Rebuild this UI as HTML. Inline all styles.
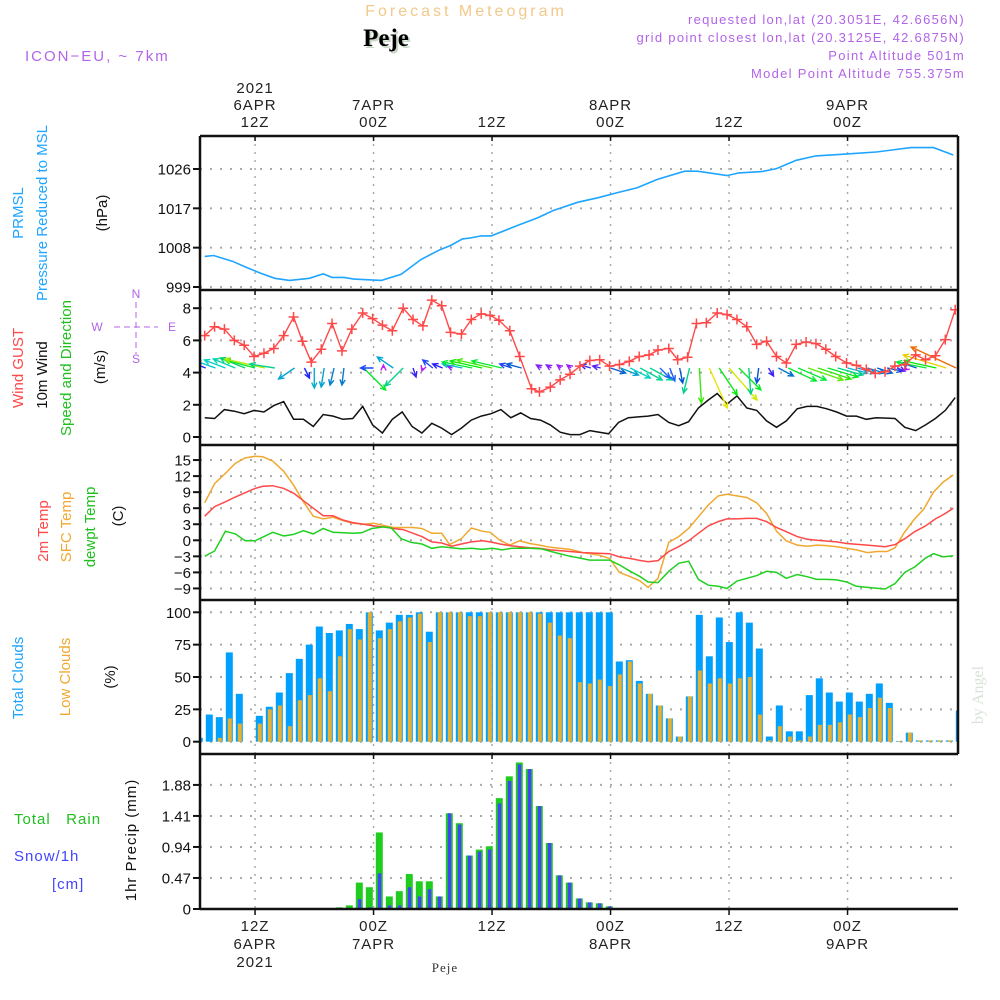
<!DOCTYPE html>
<html><head><meta charset="utf-8">
<style>
html,body{margin:0;padding:0;background:#fff;}
svg{display:block;font-family:"Liberation Sans",sans-serif;}
.tk{font-size:15px;fill:#111;}
.ax{font-size:15px;fill:#222;letter-spacing:1px;}
</style></head>
<body>
<svg id="chart" width="1000" height="1000" viewBox="0 0 1000 1000" xmlns="http://www.w3.org/2000/svg">
<rect x="0" y="0" width="1000" height="1000" fill="#fff"/>
<!-- header -->
<text x="466" y="16" text-anchor="middle" font-size="16" fill="#f2c98a" letter-spacing="3">Forecast Meteogram</text>
<text x="388" y="48" text-anchor="middle" font-size="25" font-weight="bold" font-family="Liberation Serif, serif" fill="#c8d8c8">Peje</text>
<text x="386" y="46" text-anchor="middle" font-size="25" font-weight="bold" font-family="Liberation Serif, serif" fill="#000">Peje</text>
<text x="25" y="61" font-size="15" fill="#b264e8" letter-spacing="2">ICON−EU, ~ 7km</text>
<g font-size="13" fill="#b264e8" text-anchor="end" letter-spacing="1.3">
<text x="965" y="24">requested lon,lat (20.3051E, 42.6656N)</text>
<text x="965" y="42">grid point closest lon,lat (20.3125E, 42.6875N)</text>
<text x="965" y="60">Point Altitude 501m</text>
<text x="965" y="78">Model Point Altitude 755.375m</text>
</g>
<text transform="translate(983,695) rotate(-90)" text-anchor="middle" font-size="16" font-family="Liberation Serif, serif" fill="#d8e2d8">by Angel</text>

<!-- left axis titles -->
<g font-size="15">
<text transform="translate(23,213) rotate(-90)" text-anchor="middle" fill="#1ea5ff">PRMSL</text>
<text transform="translate(47,213) rotate(-90)" text-anchor="middle" fill="#1ea5ff">Pressure Reduced to MSL</text>
<text transform="translate(107,213) rotate(-90)" text-anchor="middle" fill="#111">(hPa)</text>
</g>
<g font-size="15">
<text transform="translate(23,368) rotate(-90)" text-anchor="middle" fill="#ff4848">Wind GUST</text>
<text transform="translate(47,375) rotate(-90)" text-anchor="middle" fill="#111">10m Wind</text>
<text transform="translate(71,368) rotate(-90)" text-anchor="middle" fill="#20c020">Speed and Direction</text>
<text transform="translate(105,367) rotate(-90)" text-anchor="middle" fill="#111">(m/s)</text>
</g>
<g stroke="#b264e8" fill="#b264e8" font-size="12">
<line x1="136" y1="302" x2="136" y2="354" stroke-dasharray="6 4" stroke-width="1"/>
<line x1="114" y1="327" x2="158" y2="327" stroke-dasharray="6 4" stroke-width="1"/>
<text x="136" y="298" text-anchor="middle" stroke="none">N</text>
<text x="136" y="363" text-anchor="middle" stroke="none">S</text>
<text x="97" y="331" text-anchor="middle" stroke="none">W</text>
<text x="172" y="331" text-anchor="middle" stroke="none">E</text>
</g>
<g font-size="15">
<text transform="translate(48,531) rotate(-90)" text-anchor="middle" fill="#ff4848">2m Temp</text>
<text transform="translate(71,527) rotate(-90)" text-anchor="middle" fill="#f0a830">SFC Temp</text>
<text transform="translate(95,527) rotate(-90)" text-anchor="middle" fill="#20c020">dewpt Temp</text>
<text transform="translate(123,516) rotate(-90)" text-anchor="middle" fill="#111">(C)</text>
</g>
<g font-size="15">
<text transform="translate(23,678) rotate(-90)" text-anchor="middle" fill="#1ea5ff">Total Clouds</text>
<text transform="translate(70,677) rotate(-90)" text-anchor="middle" fill="#f0a830">Low Clouds</text>
<text transform="translate(115,677) rotate(-90)" text-anchor="middle" fill="#111">(%)</text>
</g>
<g font-size="15" letter-spacing="1">
<text x="14" y="824" fill="#20c020">Total&#160;&#160;&#160;Rain</text>
<text x="14" y="861" fill="#4444ff">Snow/1h</text>
<text x="52" y="889" fill="#4444ff">[cm]</text>
<text transform="translate(136,840) rotate(-90)" text-anchor="middle" fill="#111">1hr Precip (mm)</text>
</g>
<text x="445" y="972" text-anchor="middle" font-size="13" font-family="Liberation Serif, serif" fill="#333" letter-spacing="1">Peje</text>

<g id="grid"></g>
<g id="marks"></g>
<g id="frame"></g>
<g id="labels"></g>
</svg>
<script>
// ===== data =====
var timeTicks = [6, 18, 30, 42, 54, 66];
var topTickLines = [["2021","6APR","12Z"],["7APR","00Z"],["12Z"],["8APR","00Z"],["12Z"],["9APR","00Z"]];
var bottomTickLines = [["12Z","6APR","2021"],["00Z","7APR"],["12Z"],["00Z","8APR"],["12Z"],["00Z","9APR"]];

var pressureTicks = [999, 1008, 1017, 1026];
var pressureTimes = [0.9,1.8,3.7,5.0,6.5,8.0,9.5,11.5,12.9,13.8,15.0,16.0,18.8,20.8,22.8,24.6,25.8,27.0,27.8,28.9,29.9,32.6,34.6,36.2,38.7,40.7,42.7,44.7,46.7,49.5,50.8,53.8,55.0,57.3,58.8,60.8,62.8,65.8,68.9,72.4,74.7,76.7];
var pressureValues = [1006.0,1006.2,1004.9,1003.6,1002.2,1001.0,1000.5,1001.0,1002.0,1001.2,1001.2,1000.8,1000.5,1001.9,1005.3,1007.4,1008.5,1010.0,1010.2,1010.7,1010.7,1013.1,1014.8,1016.5,1018.4,1019.4,1020.6,1021.7,1023.6,1025.5,1025.5,1024.5,1025.1,1025.4,1026.1,1028.0,1029.0,1029.4,1029.9,1030.9,1030.9,1029.2];

var windTicks = [0, 2, 4, 6, 8];
var gustTimes = [0.9,1.9,2.9,3.9,4.9,5.9,6.9,7.9,8.9,9.9,10.8,11.7,12.7,13.8,14.8,15.8,16.9,17.9,18.9,19.9,21.0,22.0,23.0,23.9,24.9,25.8,26.9,27.9,28.9,29.8,30.7,31.8,32.8,34.0,34.8,35.9,36.9,37.9,38.9,39.9,40.9,41.9,42.9,43.9,44.9,45.9,46.8,47.9,48.8,49.8,50.7,51.7,52.8,53.8,54.8,55.8,56.8,57.8,58.8,59.8,60.8,61.8,62.8,63.8,64.8,65.9,66.9,67.9,68.8,69.8,70.8,71.8,72.9,73.9,74.9,75.9,76.9];
var gustValues = [6.3,6.85,6.7,6.0,5.7,5.0,5.2,5.5,6.3,7.45,5.95,4.65,5.45,7.05,5.35,6.7,7.7,7.35,6.95,6.6,8.0,7.3,6.9,8.5,8.15,6.5,6.4,7.3,7.65,7.55,7.25,6.6,5.0,3.0,2.8,3.1,3.55,3.9,4.4,4.75,4.8,4.4,4.5,4.7,5.0,5.1,5.4,5.5,4.8,4.95,7.05,7.1,7.7,7.6,7.3,6.85,5.75,5.95,5.0,4.6,5.75,5.9,5.8,5.45,5.0,4.6,4.45,4.2,3.95,4.05,4.4,4.5,5.1,4.8,5.05,6.05,7.9];
var speedTimes = [0.9,1.9,2.9,3.9,4.9,5.9,6.9,7.9,8.9,9.9,10.9,11.9,12.9,13.9,14.9,15.9,16.9,17.9,18.9,19.9,20.9,21.9,22.9,23.9,24.9,25.9,26.9,27.9,28.9,29.9,30.9,31.9,32.9,33.9,34.9,35.9,36.9,37.9,38.9,39.9,41.8,42.8,43.8,45.8,46.8,47.9,48.9,49.9,50.9,51.9,52.8,53.8,54.8,55.8,56.8,57.8,58.8,59.8,60.9,61.9,62.9,63.9,64.9,65.9,66.9,67.9,68.9,70.8,71.8,72.9,73.9,74.9,75.9,76.9];
var speedValues = [1.2,1.15,1.7,1.6,1.45,1.65,1.55,1.95,2.2,1.1,1.1,0.65,1.4,1.3,1.1,1.15,1.9,0.75,0.25,1.1,1.55,0.65,0.25,0.85,0.55,0.15,0.55,1.05,1.3,1.45,1.7,1.2,1.5,1.15,1.05,0.75,0.3,0.15,0.15,0.4,0.2,0.9,1.2,1.3,1.4,0.9,0.7,0.95,1.8,2.3,2.7,2.05,2.55,1.8,1.65,1.0,0.6,1.0,1.75,1.9,1.9,1.75,1.55,1.3,1.3,1.1,1.2,1.15,0.6,0.4,0.75,1.15,1.65,2.45];
var arrowTimes = [0,1,2,3,4,5,6,7,8,10,11,12,13,14,15,17,18,19,20,21,22,23,24,25,26,27,28,29,30,31,32,33,35,36,37,38,40,41,42,43,44,45,46,47,48,49,50,51,52,53,54,55,56,57,58,59,60,61,62,63,64,65,66,67,68,69,70,71,72,73,74,75,76,77];
var arrowU = [-14,-10,-20,-21,-22,-25,-30,-40,-25,-16,5,0,-3,-4,-2,22,-13,0,-16,-18,3,-1,-10,-10,-5,-20,-30,-32,-35,-30,-12,-15,-5,-5,-4,-4,-10,-8,15,18,20,22,22,10,5,3,-6,2,18,18,28,22,2,-2,5,15,28,28,35,33,30,25,20,18,17,15,15,8,-3,-15,-30,-32,-43,-45];
var arrowV = [4,4,7,8,9,10,8,9,4,-11,-10,-20,-19,-17,-17,-22,0,3,11,-18,-9,-3,8,4,2,4,6,7,8,7,4,4,3,3,3,3,3,2,-5,-7,-10,-12,-12,-10,-13,-15,-25,-35,-40,-27,-32,-22,-26,-15,-8,-8,-13,-12,-12,-11,-9,-7,-5,-5,-5,-5,-3,-3,-2,5,6,7,13,21];

var tempTicks = [-9,-6,-3,0,3,6,9,12,15];
var sfcTimes = [0.9,1.9,3.0,4.0,5.0,6.0,6.8,7.8,8.9,9.9,10.9,11.9,12.9,13.9,14.9,15.9,17.0,18.0,19.0,20.0,21.0,22.0,22.9,23.9,24.9,25.7,26.9,27.9,29.0,29.8,30.8,31.8,32.8,33.8,34.8,35.9,37.9,39.2,40.9,41.9,42.9,44.0,45.0,45.8,46.8,47.9,48.9,49.9,50.9,51.9,52.9,53.8,54.8,55.8,56.8,57.8,58.8,59.8,60.9,61.9,62.9,63.9,64.9,65.9,66.9,68.0,69.0,70.0,70.8,71.7,72.7,73.7,74.7,75.7,76.7];
var sfcValues = [7.0,10.6,12.5,14.4,15.4,15.7,15.6,14.8,12.9,10.3,7.2,4.5,4.0,4.3,3.7,3.2,3.0,3.2,2.8,2.4,2.4,2.4,2.2,1.3,1.3,-0.8,0.3,2.3,1.7,1.5,0.0,-0.9,-0.1,-0.6,-0.9,-1.3,-1.7,-2.3,-2.8,-3.4,-6.0,-6.8,-7.6,-8.8,-7.1,-0.4,0.7,2.2,4.4,6.6,8.3,8.6,8.3,8.0,7.0,5.0,1.7,-0.1,-0.9,-1.1,-0.9,-1.0,-1.2,-1.5,-1.8,-2.3,-2.1,-2.1,-1.4,1.3,3.8,5.8,9.0,10.9,12.2];
var t2mTimes = [0.9,1.9,3.0,4.0,5.0,6.0,6.8,7.8,8.9,9.9,10.9,11.9,12.9,13.9,14.9,15.9,17.0,18.0,19.0,20.0,21.0,22.0,22.9,23.9,24.9,25.9,26.9,27.9,29.0,29.8,30.8,31.8,32.8,33.8,34.8,35.9,37.9,39.2,41.9,42.9,44.0,44.8,45.8,46.8,47.9,48.9,49.9,50.9,51.9,52.9,53.8,54.8,55.8,56.8,57.8,58.8,59.8,60.9,61.9,62.9,64.9,65.9,68.0,69.8,70.8,71.8,72.8,73.9,74.9,75.9,76.7];
var t2mValues = [4.5,6.3,7.2,8.1,8.9,9.7,10.1,10.2,9.7,8.8,7.4,6.0,4.6,4.6,3.8,3.3,3.0,2.7,2.5,2.2,2.0,1.3,0.7,-0.3,-0.5,-1.1,-0.7,-0.3,-0.1,-0.3,-0.7,-1.0,-1.2,-1.4,-1.5,-1.8,-2.1,-2.3,-2.5,-3.1,-3.4,-3.7,-4.0,-3.8,-2.1,-1.2,-0.1,1.3,2.7,3.5,4.0,4.0,4.1,4.1,3.5,2.4,1.6,0.7,0.2,0.0,-0.3,-0.6,-0.9,-1.2,-0.8,0.3,1.6,2.7,4.0,5.0,6.0];
var dewTimes = [0.9,1.9,3.0,4.0,5.0,6.0,6.8,7.8,8.9,9.9,10.9,11.9,12.9,13.9,14.9,15.9,16.8,17.8,19.0,19.8,20.8,21.8,22.9,23.9,24.9,25.9,26.9,27.9,29.0,30.0,31.0,32.0,33.8,35.0,36.4,37.7,39.1,39.9,41.9,42.9,44.0,45.0,45.8,46.8,47.9,48.9,49.9,50.9,51.9,52.9,53.8,54.8,55.8,56.8,57.8,58.8,59.8,60.9,61.9,62.9,63.9,64.9,65.9,66.9,68.0,69.8,70.8,71.8,72.8,73.9,74.7,75.7,76.7];
var dewValues = [-3.0,-2.0,1.7,1.2,-0.1,-0.1,0.6,1.5,0.8,1.1,1.8,1.2,2.2,1.5,1.4,1.3,1.4,2.2,2.5,2.3,0.3,-0.4,-0.7,-1.5,-1.2,-1.4,-1.6,-1.5,-1.7,-1.5,-1.8,-1.5,-1.5,-1.6,-2.3,-2.9,-3.4,-3.7,-3.7,-4.6,-5.8,-6.8,-7.8,-7.9,-5.8,-4.3,-3.9,-7.3,-8.4,-8.6,-9.0,-7.6,-7.1,-6.6,-5.8,-6.0,-7.1,-6.4,-6.8,-7.3,-7.3,-7.4,-7.8,-8.6,-8.8,-9.1,-8.1,-6.0,-5.0,-3.3,-2.5,-3.1,-2.9];

var cloudTicks = [0, 25, 50, 75, 100];
var totalClouds = [3,21,19,69,37,0,20,27,38,53,64,75,89,84,86,91,87,100,86,92,98,98,100,85,100,100,100,100,100,100,100,100,100,100,100,100,100,100,100,100,100,100,62,63,47,37,28,18,4,35,98,66,96,77,100,92,72,4,28,8,8,36,49,38,31,38,31,37,45,30,0.5,7,1,1,1,1,24];
var lowClouds = [0,0,3,18,14,0,14,25,28,12,32,36,49,39,66,87,79,100,80,87,93,96,99,77,100,100,100,97,97,100,100,100,100,100,99,92,82,80,46,45,48,43,52,62,45,37,28,18,4,35,55,45,49,45,49,50,21,1,12,4,1,4,13,13,15,21,19,26,34,26,0.5,7,1,1,1,1,24];

var precipTicks = [0, 0.47, 0.94, 1.41, 1.88];
var precipStart = 14;
var totalPrecip = [0.025,0.055,0.40,0.33,1.16,0.19,0.27,0.53,0.42,0.42,0.19,1.45,1.30,0.81,0.90,0.95,1.68,2.01,2.22,2.12,1.56,1.00,0.51,0.40,0.16,0.10,0.086,0.04,0.01];
var snowPrecip = [0,0,0.15,0.025,0.54,0.055,0.055,0.33,0.19,0.30,0.19,1.45,1.28,0.81,0.87,0.90,1.60,1.94,2.19,2.12,1.56,1.00,0.51,0.40,0.16,0.10,0.086,0.04,0.01];

// ===== scales =====
var L = 200, R = 958;
function X(t){ return 195.8 + t * 9.875; }
function XB(i){ return 199.3 + i * 10; }
function yP(p){ return 169 + (1026 - p) * 4.37; }
function yW(v){ return 437 - v * 16.1; }
function yT(c){ return 540.3 - c * 5.35; }
function yC(c){ return 741.7 - c * 1.294; }
function yR(r){ return 909 - r * 66; }

var NS = "http://www.w3.org/2000/svg";
var grid = document.getElementById('grid');
var marks = document.getElementById('marks');
var frame = document.getElementById('frame');
var labels = document.getElementById('labels');
function el(tag, parent, attrs){
  var e = document.createElementNS(NS, tag);
  for (var k in attrs) e.setAttribute(k, attrs[k]);
  parent.appendChild(e);
  return e;
}

var defs = el('defs', document.getElementById('chart'), {});
var cp = el('clipPath', defs, {id:'plotclip'});
el('rect', cp, {x:L+1, y:136, width:R-L-1, height:775});
marks.setAttribute('clip-path', 'url(#plotclip)');

var panels = [
  {top:136, bot:290, ticks:pressureTicks, y:yP, fmt:function(v){return String(v);}, name:'pressure'},
  {top:290, bot:445, ticks:windTicks, y:yW, fmt:function(v){return String(v);}, name:'wind'},
  {top:445, bot:600, ticks:tempTicks, y:yT, fmt:function(v){return v<0?'−'+(-v):String(v);}, name:'temperature'},
  {top:600, bot:754, ticks:cloudTicks, y:yC, fmt:function(v){return String(v);}, name:'cloud'},
  {top:754, bot:909, ticks:precipTicks, y:yR, fmt:function(v){return v===0?'0':v.toFixed(2);}, name:'precip'}
];

panels.forEach(function(p){
  p.ticks.forEach(function(v){
    var yy = p.y(v);
    var g = el('line', grid, {x1:L, x2:R, y1:yy, y2:yy, stroke:'#aaa', 'stroke-width':2, 'stroke-dasharray':'2 8'});
    
    
    var tk = el('line', frame, {x1:L-7, x2:L, y1:yy, y2:yy, stroke:'#111', 'stroke-width':2});
    
    
    var tx = el('text', labels, {x:L-9, y:yy+5.5, 'text-anchor':'end', 'class':'tk'});
    tx.textContent = p.fmt(v);
    
    
  });
  timeTicks.forEach(function(t){
    var xx = X(t);
    var g = el('line', grid, {x1:xx, x2:xx, y1:p.top, y2:p.bot, stroke:'#aaa', 'stroke-width':1.5, 'stroke-dasharray':'2 6'});
    
    
    var tk = el('line', frame, {x1:xx, x2:xx, y1:p.top, y2:p.top+5, stroke:'#111', 'stroke-width':1.5});
    
    
  });
});

[[L,136,R,136],[L,290,R,290],[L,445,R,445],[L,600,R,600],[L,754,R,754],[L,909,R,909],[L,136,L,909],[R,136,R,754]].forEach(function(s){
  var f = el('line', frame, {x1:s[0], y1:s[1], x2:s[2], y2:s[3], stroke:'#111', 'stroke-width':2.5});
  
  
});

timeTicks.forEach(function(t, k){
  var xx = X(t);
  var top = topTickLines[k];
  top.forEach(function(s, j){
    var tx = el('text', labels, {x:xx, y:127 - (top.length-1-j)*17, 'text-anchor':'middle', 'class':'ax'});
    tx.textContent = s;
    
    
  });
  var tk = el('line', frame, {x1:xx, x2:xx, y1:909, y2:915, stroke:'#111', 'stroke-width':1.5});
  
  
  bottomTickLines[k].forEach(function(s, j){
    var tx = el('text', labels, {x:xx, y:931 + j*18, 'text-anchor':'middle', 'class':'ax'});
    tx.textContent = s;
    
    
  });
});

function pathFrom(times, vals, yf){
  var d = '';
  for (var i = 0; i < times.length; i++) d += (i ? 'L' : 'M') + X(times[i]).toFixed(1) + ',' + yf(vals[i]).toFixed(1);
  return d;
}

var pl = el('path', marks, {d:pathFrom(pressureTimes, pressureValues, yP), fill:'none', stroke:'#1ea5ff', 'stroke-width':1.6});



var sl = el('path', marks, {d:pathFrom(speedTimes, speedValues, yW), fill:'none', stroke:'#111', 'stroke-width':1.5});



for (var a = 0; a < arrowTimes.length; a++){
  var x0 = X(arrowTimes[a]), y0 = 368;
  var dx = arrowU[a], dy = -arrowV[a];
  var mag = Math.sqrt(dx*dx + dy*dy);
  var hue = Math.max(0, 300 - mag * 5.5);
  var col = 'hsl(' + hue.toFixed(0) + ',95%,' + (hue > 220 ? 55 : (hue > 140 ? 42 : 47)) + '%)';
  var x1 = x0 + dx, y1 = y0 + dy;
  var ang = Math.atan2(dy, dx), hl = 6;
  var d = 'M' + x0 + ',' + y0 + 'L' + x1 + ',' + y1 +
    'M' + (x1 - hl*Math.cos(ang-0.45)) + ',' + (y1 - hl*Math.sin(ang-0.45)) + 'L' + x1 + ',' + y1 +
    'L' + (x1 - hl*Math.cos(ang+0.45)) + ',' + (y1 - hl*Math.sin(ang+0.45));
  var ar = el('path', marks, {d:d, fill:'none', stroke:col, 'stroke-width':1.4});
  
  
}

var gl = el('path', marks, {d:pathFrom(gustTimes, gustValues, yW), fill:'none', stroke:'#ff4848', 'stroke-width':1.4});


for (var g = 0; g < gustTimes.length; g++){
  var gx = X(gustTimes[g]), gy = yW(gustValues[g]);
  var m = el('path', marks, {d:'M'+(gx-5)+','+gy+'h10M'+gx+','+(gy-5)+'v10', stroke:'#ff4848', 'stroke-width':1.5});
  
  
}

var sf = el('path', marks, {d:pathFrom(sfcTimes, sfcValues, yT), fill:'none', stroke:'#f0a830', 'stroke-width':1.5});


var t2 = el('path', marks, {d:pathFrom(t2mTimes, t2mValues, yT), fill:'none', stroke:'#ff4848', 'stroke-width':1.5});


var dw = el('path', marks, {d:pathFrom(dewTimes, dewValues, yT), fill:'none', stroke:'#20d020', 'stroke-width':1.5});



for (var i = 0; i < totalClouds.length; i++){
  var cx = XB(i);
  var tb = el('rect', marks, {x:cx-3.5, y:yC(totalClouds[i]), width:7, height:yC(0)-yC(totalClouds[i]), fill:'#00a0ff'});
  
  
  var lb = el('rect', marks, {x:cx-1.5, y:yC(lowClouds[i]), width:4, height:yC(0)-yC(lowClouds[i]), fill:'#e8b030'});
  
  
}

for (var j = 0; j < totalPrecip.length; j++){
  var px = XB(precipStart + j);
  var rb = el('rect', marks, {x:px-3.5, y:yR(totalPrecip[j]), width:7, height:yR(0)-yR(totalPrecip[j]), fill:'#20cc20'});
  
  
  var sb = el('rect', marks, {x:px-1.5, y:yR(snowPrecip[j]), width:3.5, height:yR(0)-yR(snowPrecip[j]), fill:'#4444ff'});
  
  
}
</script>
</body></html>
